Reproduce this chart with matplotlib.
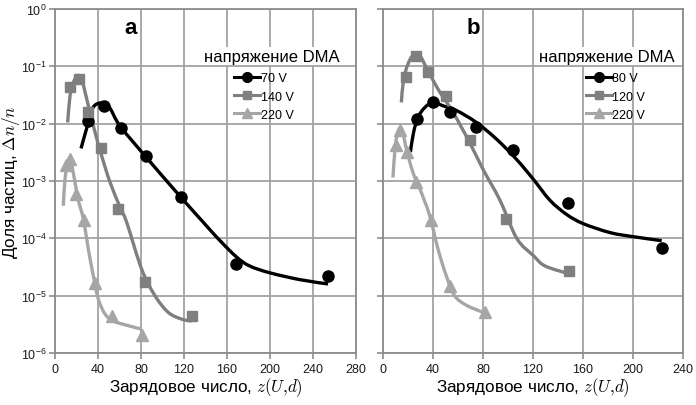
import matplotlib
matplotlib.use("Agg")
import matplotlib.pyplot as plt
import numpy as np
from matplotlib.ticker import LogLocator, FixedLocator
from matplotlib.path import Path
from matplotlib.patches import PathPatch

plt.rcParams['font.family'] = ['Liberation Sans', 'DejaVu Sans']

# ---------------- Panel a ----------------
a_categories = ["70 V", "140 V", "220 V"]
# measured points
a70_x = [31, 45.9, 61, 84.3, 117, 168.4, 253.6]
a70_y = [1.12e-2, 2.0e-2, 8.3e-3, 2.7e-3, 5.2e-4, 3.5e-5, 2.2e-5]
a140_x = [14, 22.3, 30.4, 42.8, 58.9, 83.7, 127]
a140_y = [4.4e-2, 5.9e-2, 1.58e-2, 3.7e-3, 3.3e-4, 1.7e-5, 4.4e-6]
a220_x = [9.9, 14, 19.2, 27.3, 37.2, 53.3, 80.6]
a220_y = [1.9e-3, 2.4e-3, 5.9e-4, 2.1e-4, 1.66e-5, 4.4e-6, 2.1e-6]
# trend curves
a70_cx = [24.2, 31, 34.7, 38.8, 45.9, 51.2, 60.5, 83.7, 116, 138, 153.5, 169, 181, 200, 228, 254]
a70_cy = [3.7e-3, 1.05e-2, 1.8e-2, 2.2e-2, 2.3e-2, 1.86e-2, 9.1e-3, 2.75e-3, 5.5e-4, 1.9e-4,
          9.1e-5, 4.7e-5, 3.3e-5, 2.5e-5, 1.9e-5, 1.6e-5]
a140_cx = [11.8, 14, 17, 21.1, 24.8, 29.5, 35.7, 43.4, 51.2, 60.5, 66.7, 80.6, 93, 105.4, 117.8, 127.1]
a140_cy = [1.05e-2, 3.1e-2, 5.2e-2, 6.9e-2, 6.0e-2, 2.7e-2, 9.1e-3, 2.75e-3, 9.5e-4, 3.5e-4,
           1.9e-4, 2.9e-5, 1.0e-5, 5.1e-6, 3.9e-6, 3.6e-6]
a220_cx = [7.7, 9.3, 11.8, 14, 17, 21.4, 26.3, 31, 35.7, 40.3, 46.5, 54.2, 68.2, 80.6]
a220_cy = [3.7e-4, 1.07e-3, 2.1e-3, 2.4e-3, 1.4e-3, 4.9e-4, 2.2e-4, 6.5e-5, 2.2e-5, 8.7e-6,
           4.8e-6, 3.6e-6, 3.0e-6, 2.6e-6]

# ---------------- Panel b ----------------
b_categories = ["80 V", "120 V", "220 V"]
b80_x = [27.2, 40, 53.3, 74.7, 104, 147.7, 223]
b80_y = [1.2e-2, 2.35e-2, 1.6e-2, 8.9e-3, 3.5e-3, 4.1e-4, 6.8e-5]
b120_x = [18.1, 26.7, 36, 50.1, 69.3, 98.7, 149]
b120_y = [6.4e-2, 0.15, 7.9e-2, 3.0e-2, 5.2e-3, 2.2e-4, 2.7e-5]
b220_x = [10.1, 13.9, 19.2, 26.7, 38.1, 53.3, 81.3]
b220_y = [4.3e-3, 7.9e-3, 3.2e-3, 9.5e-4, 2.1e-4, 1.5e-5, 5.2e-6]
b80_cx = [21.9, 24.5, 28, 33.3, 40, 48, 58.7, 74.7, 90.7, 106.7, 120.3, 133.6, 147, 160.3, 181.6, 200, 223]
b80_cy = [3.2e-3, 7.1e-3, 1.29e-2, 1.9e-2, 2.35e-2, 2.05e-2, 1.7e-2, 1.05e-2, 5.4e-3, 2.4e-3,
          1.07e-3, 4.6e-4, 2.6e-4, 1.8e-4, 1.26e-4, 1.07e-4, 9.1e-5]
b120_cx = [14.7, 16.5, 20, 24, 29.3, 34.7, 44, 56, 69.3, 80, 93.6, 107, 120.3, 129.6, 149]
b120_cy = [2.35e-2, 6.0e-2, 0.11, 0.155, 0.155, 9.5e-2, 4.0e-2, 1.58e-2, 4.7e-3, 1.6e-3,
           4.6e-4, 1.0e-4, 5.0e-5, 3.3e-5, 2.4e-5]
b220_cx = [8, 9.9, 12.8, 15.5, 18.7, 24, 29.6, 37.3, 44, 50.7, 57.3, 66.7, 81.3]
b220_cy = [1.15e-3, 4.2e-3, 8.1e-3, 7.6e-3, 3.6e-3, 1.4e-3, 7.2e-4, 2.5e-4, 6.5e-5, 2.2e-5,
           1.0e-5, 6.8e-6, 5.0e-6]

legend_title = "напряжение DMA"
xlabel = "Зарядовое число, $z(U{,}d)$"
ylabel = "Доля частиц, $\\Delta n/n$"

colors = ["#000000", "#7f7f7f", "#a6a6a6"]
markers = ["o", "s", "^"]
msizes = [8, 7, 8]

fig = plt.figure(figsize=(6.96, 4.06), dpi=100)
W, H = 696, 406
axa = fig.add_axes([55 / W, (H - 354) / H, 301 / W, 344 / H])
axb = fig.add_axes([383 / W, (H - 354) / H, 300 / W, 344 / H])

grid_c = "#a3a3a3"


def smooth_path(xs, ys):
    """Smoothed (Excel-like) rendering: Bezier segments between the read points,
    control points taken in (x, log y) space, drawn through the log axis transform."""
    x = np.asarray(xs, float)
    ly = np.log10(np.asarray(ys, float))
    P = np.column_stack([x, ly])
    n = len(P)
    verts = [P[0]]
    codes = [Path.MOVETO]
    for i in range(n - 1):
        p0 = P[i - 1] if i > 0 else P[i]
        p1 = P[i]
        p2 = P[i + 1]
        p3 = P[i + 2] if i + 2 < n else P[i + 1]
        c1 = p1 + (p2 - p0) / 6.0
        c2 = p2 - (p3 - p1) / 6.0
        verts += [c1, c2, p2]
        codes += [Path.CURVE4] * 3
    V = np.array(verts)
    V[:, 1] = 10.0 ** V[:, 1]
    return Path(V, codes)


def style(ax, xmax, xticks, show_ylabels):
    ax.set_yscale("log")
    ax.set_ylim(1e-6, 1)
    ax.set_xlim(0, xmax)
    ax.set_autoscale_on(False)
    ax.xaxis.set_major_locator(FixedLocator(xticks))
    ax.yaxis.set_major_locator(LogLocator(base=10, numticks=10))
    ax.yaxis.set_minor_locator(FixedLocator([]))
    ax.grid(True, color=grid_c, lw=1.3)
    ax.set_axisbelow(True)
    for s in ax.spines.values():
        s.set_color("#8c8c8c")
        s.set_linewidth(1.3)
    ax.tick_params(axis="both", colors="#8c8c8c", labelcolor="#1a1a1a",
                   labelsize=9, length=4, width=1.2)
    ax.tick_params(axis="y", pad=2)
    if not show_ylabels:
        ax.tick_params(axis="y", labelleft=False)
    ax.set_xlabel(xlabel, fontsize=12.3, math_fontfamily="cm", labelpad=0)


def draw(ax, pts, curves, labels, title_x, leg_x):
    handles = []
    for (px, py), (cx, cy), c, m, ms, lab in zip(pts, curves, colors, markers, msizes, labels):
        ax.add_patch(PathPatch(smooth_path(cx, cy), fill=False, ec=c, lw=2.4,
                               joinstyle="round", capstyle="butt", zorder=3,
                               transform=ax.transData))
        ax.plot(px, py, ls="none", marker=m, ms=ms, color=c, mec=c, zorder=4)
        h, = ax.plot([], [], color=c, lw=2.2, marker=m, ms=ms - 1, mec=c)
        h.set_label(lab)
        handles.append(h)
    ax.text(title_x, 0.863, legend_title, transform=ax.transAxes, fontsize=12,
            ha="center", va="center", zorder=6,
            bbox=dict(boxstyle="square,pad=0.1", fc="white", ec="none"))
    leg = ax.legend(handles=handles, loc="upper left",
                    bbox_to_anchor=(leg_x, 0.816), frameon=False, fontsize=9,
                    handlelength=2.1, handletextpad=0.05,
                    labelspacing=0.5, borderpad=0.0, borderaxespad=0.0)
    return leg


style(axa, 280, [0, 40, 80, 120, 160, 200, 240, 280], True)
style(axb, 240, [0, 40, 80, 120, 160, 200, 240], False)

draw(axa, [(a70_x, a70_y), (a140_x, a140_y), (a220_x, a220_y)],
     [(a70_cx, a70_cy), (a140_cx, a140_cy), (a220_cx, a220_cy)], a_categories,
     0.721, 0.595)
draw(axb, [(b80_x, b80_y), (b120_x, b120_y), (b220_x, b220_y)],
     [(b80_cx, b80_cy), (b120_cx, b120_cy), (b220_cx, b220_cy)], b_categories,
     0.747, 0.675)

axa.set_ylabel(ylabel, fontsize=12.3, math_fontfamily="cm")
axa.yaxis.set_label_coords(-0.108, 0.5)

axa.text(0.25, 0.945, "a", transform=axa.transAxes, fontsize=16, fontweight="bold",
         ha="center", va="center")
axb.text(0.30, 0.945, "b", transform=axb.transAxes, fontsize=16, fontweight="bold",
         ha="center", va="center")

fig.savefig("out.png", dpi=100)
